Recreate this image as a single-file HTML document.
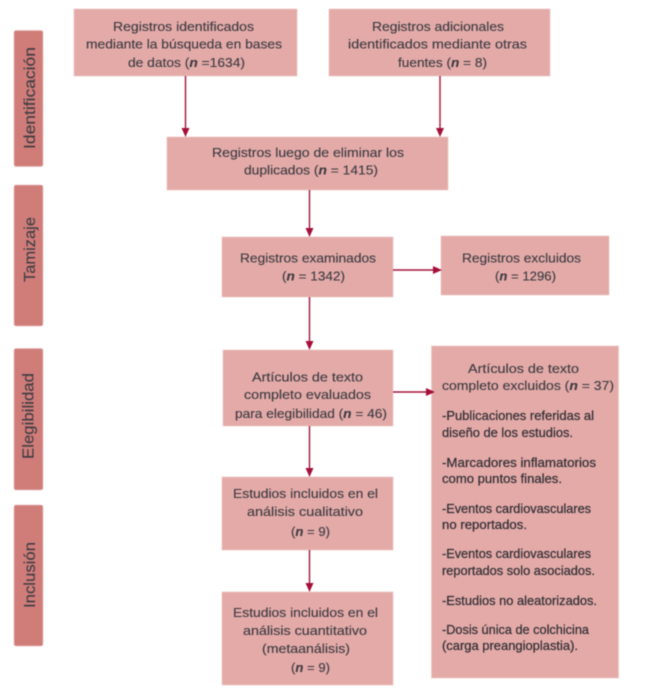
<!DOCTYPE html>
<html lang="es">
<head>
<meta charset="utf-8">
<title>Diagrama de flujo PRISMA</title>
<style>
html,body{margin:0;padding:0;background:#fff;width:650px;height:691px;overflow:hidden}
svg{display:block;filter:blur(.4px)}
text{font-family:"Liberation Sans",sans-serif;font-size:13.2px;fill:#3c3a40;stroke:#3c3a40;stroke-width:.12px}
.d{fill:#312e34;stroke:#312e34;stroke-width:.22px}
.s{font-size:15.5px;fill:#3f3d42;stroke:#3f3d42;stroke-width:.12px}
.b{fill:#e3aaa8;stroke:#eec6c4;stroke-width:.7}
.r{fill:#d07d7a;stroke:#e9c0bd;stroke-width:.7}
.l{stroke:#a5143a;stroke-width:1.4;fill:none}
.h{fill:#a5103a}
tspan{font-style:italic;font-weight:bold}
</style>
</head>
<body>
<svg width="650" height="691" viewBox="0 0 650 691" xmlns="http://www.w3.org/2000/svg">
<rect width="650" height="691" fill="#fff"/>

<rect class="r" x="14" y="30.500" width="29" height="136" rx="2"/>
<rect class="r" x="14" y="185" width="29" height="141" rx="2"/>
<rect class="r" x="14" y="348.500" width="29" height="141.500" rx="2"/>
<rect class="r" x="14" y="505" width="29" height="141" rx="2"/>

<text class="s" transform="translate(35 149) rotate(-90)" textLength="102" lengthAdjust="spacingAndGlyphs">Identificación</text>
<text class="s" transform="translate(35 282) rotate(-90)" textLength="65" lengthAdjust="spacingAndGlyphs">Tamizaje</text>
<text class="s" transform="translate(33.500 459) rotate(-90)" textLength="86" lengthAdjust="spacingAndGlyphs">Elegibilidad</text>
<text class="s" transform="translate(35 608) rotate(-90)" textLength="66" lengthAdjust="spacingAndGlyphs">Inclusión</text>

<rect class="b" x="74" y="9" width="223" height="67"/>
<rect class="b" x="329" y="9" width="221" height="67"/>
<rect class="b" x="167" y="137" width="281" height="53"/>
<rect class="b" x="222" y="237" width="171" height="60"/>
<rect class="b" x="441" y="236" width="168" height="59"/>
<rect class="b" x="223" y="350" width="170" height="76"/>
<rect class="b" x="222" y="477" width="171" height="73"/>
<rect class="b" x="222" y="592" width="171" height="93"/>
<rect class="b" x="431.500" y="346" width="187" height="332"/>

<path class="l" d="M185.500 76V129M440 76V129M309.500 190V229M309.500 297V342M309.500 426V469M309.500 550V584M393 270H435M393 392H428"/>
<path class="h" d="M181.500 128h8l-4 9zM436 128h8l-4 9zM305.500 228h8l-4 9zM305.500 341h8l-4 9zM305.500 468h8l-4 9zM305.500 583h8l-4 9zM433 266v8l9-4zM426 388v8l9-4z"/>

<text x="113" y="31" textLength="141" lengthAdjust="spacingAndGlyphs">Registros identificados</text>
<text x="86" y="48.700" textLength="196" lengthAdjust="spacingAndGlyphs">mediante la búsqueda en bases</text>
<text x="128" y="67" textLength="117" lengthAdjust="spacingAndGlyphs">de datos (<tspan>n</tspan> =1634)</text>

<text x="372" y="31" textLength="132" lengthAdjust="spacingAndGlyphs">Registros adicionales</text>
<text x="348" y="48.700" textLength="179" lengthAdjust="spacingAndGlyphs">identificados mediante otras</text>
<text x="398" y="67" textLength="89" lengthAdjust="spacingAndGlyphs">fuentes (<tspan>n</tspan> = 8)</text>

<text x="212" y="157" textLength="192" lengthAdjust="spacingAndGlyphs">Registros luego de eliminar los</text>
<text x="244" y="174.500" textLength="134" lengthAdjust="spacingAndGlyphs">duplicados (<tspan>n</tspan> = 1415)</text>

<text x="240" y="262.500" textLength="136" lengthAdjust="spacingAndGlyphs">Registros examinados</text>
<text x="282" y="280.500" textLength="63" lengthAdjust="spacingAndGlyphs">(<tspan>n</tspan> = 1342)</text>

<text x="462" y="262.500" textLength="119" lengthAdjust="spacingAndGlyphs">Registros excluidos</text>
<text x="495" y="280.500" textLength="61" lengthAdjust="spacingAndGlyphs">(<tspan>n</tspan> = 1296)</text>

<text x="252" y="381.700" textLength="111" lengthAdjust="spacingAndGlyphs">Artículos de texto</text>
<text x="244" y="399" textLength="127" lengthAdjust="spacingAndGlyphs">completo evaluados</text>
<text x="235" y="418" textLength="152" lengthAdjust="spacingAndGlyphs">para elegibilidad (<tspan>n</tspan> = 46)</text>

<text x="233" y="498" textLength="145" lengthAdjust="spacingAndGlyphs">Estudios incluidos en el</text>
<text x="247" y="516" textLength="116" lengthAdjust="spacingAndGlyphs">análisis cualitativo</text>
<text x="291" y="536" textLength="39" lengthAdjust="spacingAndGlyphs">(<tspan>n</tspan> = 9)</text>

<text x="233" y="617" textLength="145" lengthAdjust="spacingAndGlyphs">Estudios incluidos en el</text>
<text x="243" y="635" textLength="124" lengthAdjust="spacingAndGlyphs">análisis cuantitativo</text>
<text x="262" y="653" textLength="88" lengthAdjust="spacingAndGlyphs">(metaanálisis)</text>
<text x="291" y="672" textLength="39" lengthAdjust="spacingAndGlyphs">(<tspan>n</tspan> = 9)</text>

<text x="468" y="373" textLength="111" lengthAdjust="spacingAndGlyphs">Artículos de texto</text>
<text x="442" y="390" textLength="172" lengthAdjust="spacingAndGlyphs">completo excluidos (<tspan>n</tspan> = 37)</text>
<text class="d" x="442" y="420" textLength="152" lengthAdjust="spacingAndGlyphs">-Publicaciones referidas al</text>
<text class="d" x="442" y="437" textLength="131" lengthAdjust="spacingAndGlyphs">diseño de los estudios.</text>
<text class="d" x="442" y="467" textLength="154" lengthAdjust="spacingAndGlyphs">-Marcadores inflamatorios</text>
<text class="d" x="442" y="483" textLength="120" lengthAdjust="spacingAndGlyphs">como puntos finales.</text>
<text class="d" x="442" y="513" textLength="149" lengthAdjust="spacingAndGlyphs">-Eventos cardiovasculares</text>
<text class="d" x="442" y="529" textLength="85" lengthAdjust="spacingAndGlyphs">no reportados.</text>
<text class="d" x="442" y="558" textLength="149" lengthAdjust="spacingAndGlyphs">-Eventos cardiovasculares</text>
<text class="d" x="442" y="575" textLength="153" lengthAdjust="spacingAndGlyphs">reportados solo asociados.</text>
<text class="d" x="442" y="605" textLength="155" lengthAdjust="spacingAndGlyphs">-Estudios no aleatorizados.</text>
<text class="d" x="442" y="634" textLength="147" lengthAdjust="spacingAndGlyphs">-Dosis única de colchicina</text>
<text class="d" x="442" y="650" textLength="136" lengthAdjust="spacingAndGlyphs">(carga preangioplastia).</text>
</svg>
</body>
</html>
